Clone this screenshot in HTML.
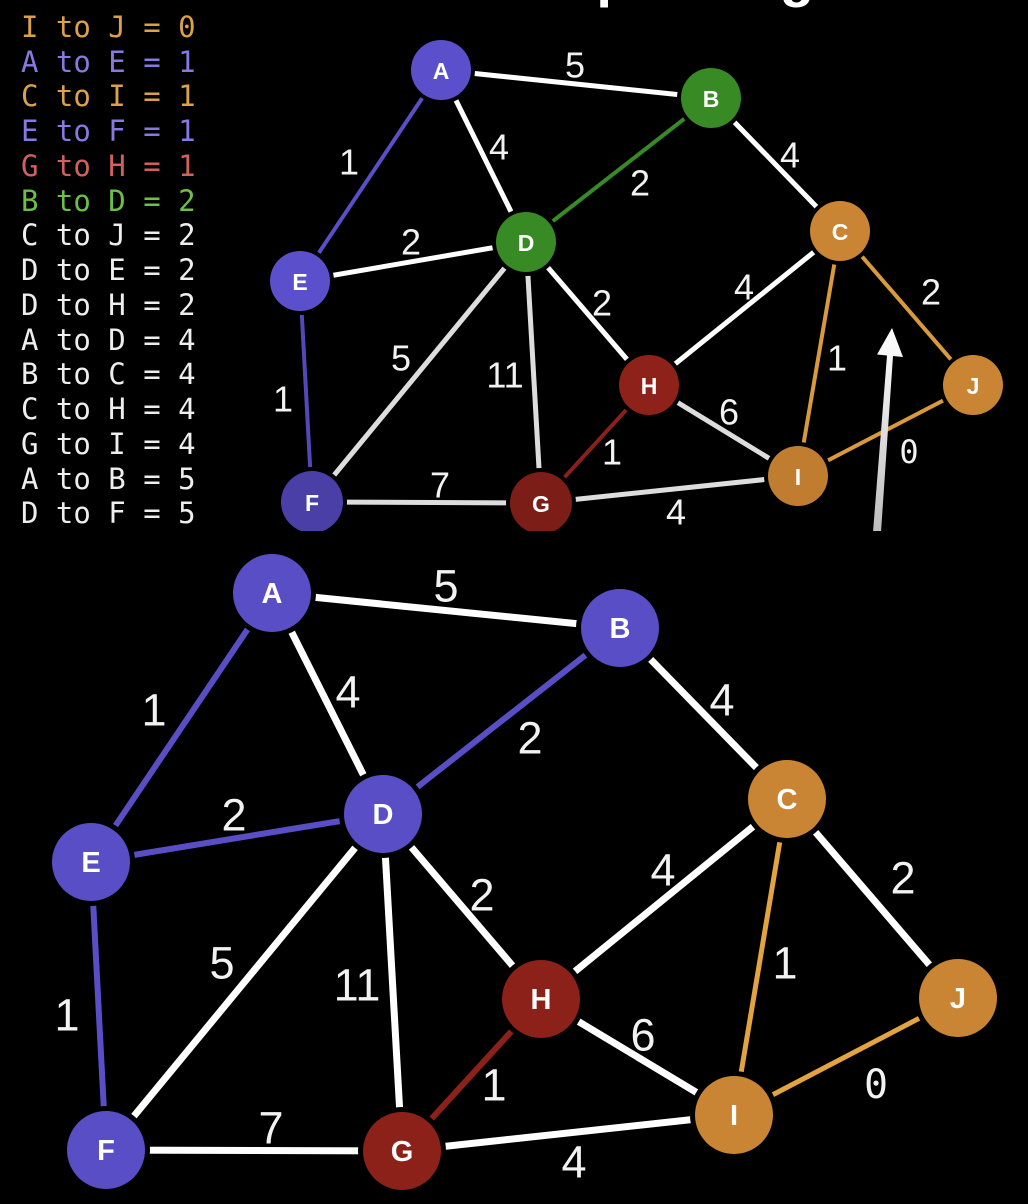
<!DOCTYPE html>
<html>
<head>
<meta charset="utf-8">
<style>
html,body{margin:0;padding:0;background:#000;}
body{width:1028px;height:1204px;overflow:hidden;position:relative;}
svg{position:absolute;left:0;top:0;}
.lbl{font-family:"Liberation Sans",sans-serif;fill:#f2f2f2;}
.mono{font-family:"DejaVu Sans Mono","Liberation Mono",monospace;}
.node{font-family:"Liberation Sans",sans-serif;font-weight:bold;fill:#fff;}
</style>
</head>
<body>
<svg width="1028" height="1204" viewBox="0 0 1028 1204" xmlns="http://www.w3.org/2000/svg">
  <defs>
    <clipPath id="topclip"><rect x="0" y="0" width="1028" height="531"/></clipPath>
    <linearGradient id="arr" x1="0" y1="1" x2="0" y2="0">
      <stop offset="0" stop-color="#bdbdbd"/>
      <stop offset="1" stop-color="#ffffff"/>
    </linearGradient>
  </defs>
  <rect width="1028" height="1204" fill="#000"/>

  <!-- cut-off title -->
  <text x="559" y="-4" font-family="Liberation Sans, sans-serif" font-weight="bold" font-size="56" fill="#fff">Spanning</text>

  <!-- legend -->
  <g class="mono" font-size="29">
    <text x="21" y="37" fill="#dca24a">I to J = 0</text>
    <text x="21" y="72" fill="#8679e0">A to E = 1</text>
    <text x="21" y="106" fill="#dca24a">C to I = 1</text>
    <text x="21" y="141" fill="#8679e0">E to F = 1</text>
    <text x="21" y="176" fill="#d0615f">G to H = 1</text>
    <text x="21" y="211" fill="#6cbf47">B to D = 2</text>
    <text x="21" y="245" fill="#eeeeee">C to J = 2</text>
    <text x="21" y="280" fill="#eeeeee">D to E = 2</text>
    <text x="21" y="315" fill="#eeeeee">D to H = 2</text>
    <text x="21" y="350" fill="#eeeeee">A to D = 4</text>
    <text x="21" y="384" fill="#eeeeee">B to C = 4</text>
    <text x="21" y="419" fill="#eeeeee">C to H = 4</text>
    <text x="21" y="454" fill="#eeeeee">G to I = 4</text>
    <text x="21" y="489" fill="#eeeeee">A to B = 5</text>
    <text x="21" y="523" fill="#eeeeee">D to F = 5</text>
  </g>

  <!-- ================= TOP GRAPH ================= -->
  <g clip-path="url(#topclip)">
    <g stroke-linecap="butt">
      <line x1="441" y1="70" x2="711" y2="98" stroke="#fff" stroke-width="5"/>
      <line x1="441" y1="70" x2="526" y2="242" stroke="#fff" stroke-width="5"/>
      <line x1="441" y1="70" x2="300" y2="281" stroke="#5b4fc8" stroke-width="4"/>
      <line x1="711" y1="98" x2="526" y2="242" stroke="#378a24" stroke-width="4"/>
      <line x1="711" y1="98" x2="840" y2="231" stroke="#fff" stroke-width="5"/>
      <line x1="300" y1="281" x2="526" y2="242" stroke="#fff" stroke-width="5"/>
      <line x1="300" y1="281" x2="312" y2="502" stroke="#5248b8" stroke-width="4"/>
      <line x1="526" y1="242" x2="312" y2="502" stroke="#dddddd" stroke-width="5"/>
      <line x1="526" y1="242" x2="541" y2="503" stroke="#dddddd" stroke-width="5"/>
      <line x1="526" y1="242" x2="649" y2="385" stroke="#fff" stroke-width="5"/>
      <line x1="840" y1="231" x2="649" y2="385" stroke="#fff" stroke-width="5"/>
      <line x1="840" y1="231" x2="798" y2="476" stroke="#d99a3c" stroke-width="4"/>
      <line x1="840" y1="231" x2="973" y2="385" stroke="#d99a3c" stroke-width="4"/>
      <line x1="649" y1="385" x2="798" y2="476" stroke="#dddddd" stroke-width="5"/>
      <line x1="649" y1="385" x2="541" y2="503" stroke="#8a2019" stroke-width="4"/>
      <line x1="798" y1="476" x2="973" y2="385" stroke="#d99a3c" stroke-width="4"/>
      <line x1="312" y1="502" x2="541" y2="503" stroke="#dddddd" stroke-width="5"/>
      <line x1="541" y1="503" x2="798" y2="476" stroke="#dddddd" stroke-width="5"/>
    </g>
    <!-- gaps -->
    <g fill="#000">
      <circle cx="441" cy="70" r="34"/><circle cx="711" cy="98" r="34"/>
      <circle cx="840" cy="231" r="34"/><circle cx="526" cy="242" r="34"/>
      <circle cx="300" cy="281" r="34"/><circle cx="312" cy="502" r="35"/>
      <circle cx="541" cy="503" r="35"/><circle cx="649" cy="385" r="34"/>
      <circle cx="798" cy="476" r="34"/><circle cx="973" cy="385" r="34"/>
    </g>
    <circle cx="441" cy="70" r="30" fill="#5b4fcb"/>
    <circle cx="711" cy="98" r="30" fill="#378a24"/>
    <circle cx="840" cy="231" r="30" fill="#c98534"/>
    <circle cx="526" cy="242" r="30" fill="#378a24"/>
    <circle cx="300" cy="281" r="30" fill="#5b4fcb"/>
    <circle cx="312" cy="502" r="31" fill="#4a3fa6"/>
    <circle cx="541" cy="503" r="31" fill="#7d1d17"/>
    <circle cx="649" cy="385" r="30" fill="#8e221b"/>
    <circle cx="798" cy="476" r="30" fill="#c07d30"/>
    <circle cx="973" cy="385" r="30" fill="#c98534"/>
    <g class="node" font-size="23" text-anchor="middle" dominant-baseline="central">
      <text x="441" y="71">A</text>
      <text x="711" y="99">B</text>
      <text x="840" y="232">C</text>
      <text x="526" y="243">D</text>
      <text x="300" y="282">E</text>
      <text x="312" y="503">F</text>
      <text x="541" y="504">G</text>
      <text x="649" y="386">H</text>
      <text x="798" y="477">I</text>
      <text x="973" y="386">J</text>
    </g>
    <g class="lbl" font-size="36" text-anchor="middle" dominant-baseline="central">
      <text x="575" y="65">5</text>
      <text x="499" y="147">4</text>
      <text x="349" y="162">1</text>
      <text x="640" y="183">2</text>
      <text x="790" y="155">4</text>
      <text x="411" y="242">2</text>
      <text x="283" y="399">1</text>
      <text x="401" y="358">5</text>
      <text x="505" y="375">11</text>
      <text x="602" y="303">2</text>
      <text x="744" y="287">4</text>
      <text x="837" y="358">1</text>
      <text x="931" y="292">2</text>
      <text x="729" y="412">6</text>
      <text x="612" y="452">1</text>
      <text x="440" y="485">7</text>
      <text x="676" y="512">4</text>
      <text class="mono" x="909" y="452" font-size="32">0</text>
    </g>
    <!-- arrow -->
    <polygon points="873,532 881,532 893,356 903,357 892,328 877,354.5 887,355.5" fill="url(#arr)"/>
  </g>

  <!-- ================= BOTTOM GRAPH ================= -->
  <g stroke-linecap="butt">
    <line x1="272" y1="593" x2="620" y2="628" stroke="#fff" stroke-width="7"/>
    <line x1="272" y1="593" x2="383" y2="814" stroke="#fff" stroke-width="7"/>
    <line x1="272" y1="593" x2="91" y2="862" stroke="#5a4ec6" stroke-width="6"/>
    <line x1="620" y1="628" x2="383" y2="814" stroke="#5a4ec6" stroke-width="6"/>
    <line x1="620" y1="628" x2="787" y2="799" stroke="#fff" stroke-width="7"/>
    <line x1="91" y1="862" x2="383" y2="814" stroke="#5a4ec6" stroke-width="6"/>
    <line x1="91" y1="862" x2="106" y2="1150" stroke="#5a4ec6" stroke-width="6"/>
    <line x1="383" y1="814" x2="106" y2="1150" stroke="#fff" stroke-width="7"/>
    <line x1="383" y1="814" x2="402" y2="1151" stroke="#fff" stroke-width="7"/>
    <line x1="383" y1="814" x2="541" y2="999" stroke="#fff" stroke-width="7"/>
    <line x1="787" y1="799" x2="541" y2="999" stroke="#fff" stroke-width="7"/>
    <line x1="787" y1="799" x2="734" y2="1115" stroke="#e3a33f" stroke-width="5"/>
    <line x1="787" y1="799" x2="958" y2="998" stroke="#fff" stroke-width="7"/>
    <line x1="541" y1="999" x2="734" y2="1115" stroke="#fff" stroke-width="7"/>
    <line x1="541" y1="999" x2="402" y2="1151" stroke="#8c211a" stroke-width="6"/>
    <line x1="734" y1="1115" x2="958" y2="998" stroke="#e3a33f" stroke-width="5"/>
    <line x1="106" y1="1150" x2="402" y2="1151" stroke="#fff" stroke-width="7"/>
    <line x1="402" y1="1151" x2="734" y2="1115" stroke="#fff" stroke-width="7"/>
  </g>
  <g fill="#000">
    <circle cx="272" cy="593" r="44"/><circle cx="620" cy="628" r="44"/>
    <circle cx="787" cy="799" r="44"/><circle cx="383" cy="814" r="44"/>
    <circle cx="91" cy="862" r="44"/><circle cx="106" cy="1150" r="44"/>
    <circle cx="402" cy="1151" r="44"/><circle cx="541" cy="999" r="44"/>
    <circle cx="734" cy="1115" r="44"/><circle cx="958" cy="998" r="44"/>
  </g>
  <circle cx="272" cy="593" r="39" fill="#5a4ec6"/>
  <circle cx="620" cy="628" r="39" fill="#5a4ec6"/>
  <circle cx="787" cy="799" r="39" fill="#c98534"/>
  <circle cx="383" cy="814" r="39" fill="#5a4ec6"/>
  <circle cx="91" cy="862" r="39" fill="#5a4ec6"/>
  <circle cx="106" cy="1150" r="39" fill="#5a4ec6"/>
  <circle cx="402" cy="1151" r="39" fill="#8c211a"/>
  <circle cx="541" cy="999" r="39" fill="#8c211a"/>
  <circle cx="734" cy="1115" r="39" fill="#c98534"/>
  <circle cx="958" cy="998" r="39" fill="#c98534"/>
  <g class="node" font-size="29" text-anchor="middle" dominant-baseline="central">
    <text x="272" y="594">A</text>
    <text x="620" y="629">B</text>
    <text x="787" y="800">C</text>
    <text x="383" y="815">D</text>
    <text x="91" y="863">E</text>
    <text x="106" y="1151">F</text>
    <text x="402" y="1152">G</text>
    <text x="541" y="1000">H</text>
    <text x="734" y="1116">I</text>
    <text x="958" y="999">J</text>
  </g>
  <g class="lbl" font-size="45" text-anchor="middle" dominant-baseline="central">
    <text x="446" y="586">5</text>
    <text x="154" y="710">1</text>
    <text x="348" y="692">4</text>
    <text x="530" y="738">2</text>
    <text x="722" y="700">4</text>
    <text x="234" y="815">2</text>
    <text x="67" y="1015">1</text>
    <text x="222" y="963">5</text>
    <text x="357" y="985">11</text>
    <text x="482" y="895">2</text>
    <text x="663" y="870">4</text>
    <text x="785" y="963">1</text>
    <text x="903" y="878">2</text>
    <text x="643" y="1035">6</text>
    <text x="494" y="1085">1</text>
    <text x="271" y="1128">7</text>
    <text x="574" y="1162">4</text>
    <text class="mono" x="876" y="1085" font-size="40">0</text>
  </g>
</svg>
</body>
</html>
